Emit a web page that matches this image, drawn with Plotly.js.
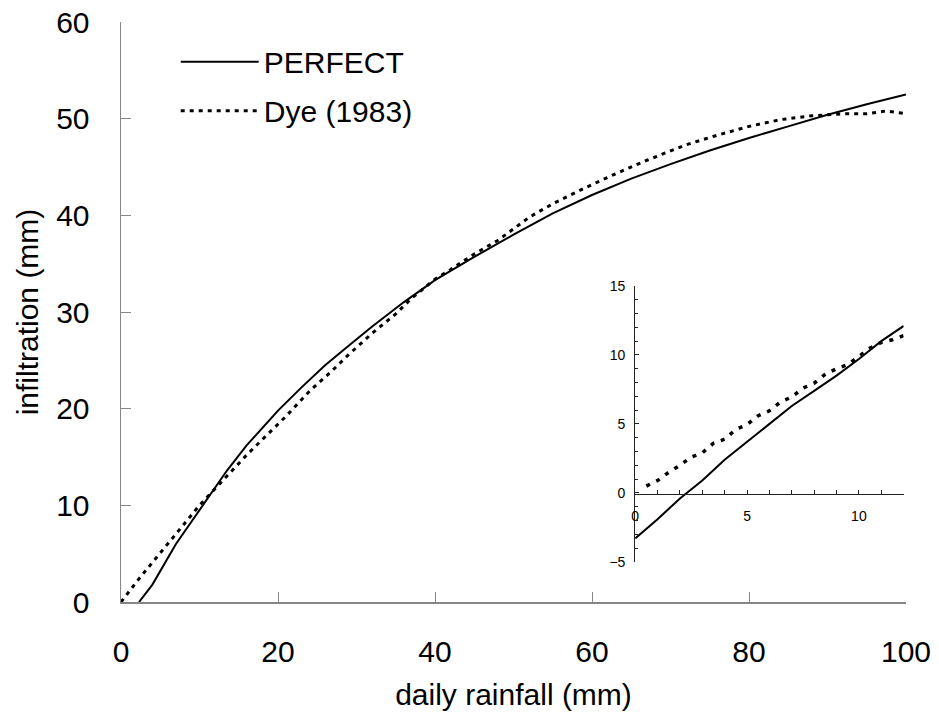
<!DOCTYPE html>
<html>
<head>
<meta charset="utf-8">
<script src="https://cdn.plot.ly/plotly-3.0.1.min.js"></script>
<style>html,body{margin:0;padding:0;background:#fff;}#chart{width:939px;height:721px;}</style>
</head>
<body>
<div id="chart"></div>
<script>
// Main panel data
const perfectX = [2.3, 4, 7, 10, 13.5, 16, 20, 23, 26, 29, 32, 36, 40, 45, 50, 55, 60, 65, 70, 75, 80, 85, 90, 95, 100];
const perfectY = [0, 1.8, 6.0, 9.5, 13.6, 16.2, 19.8, 22.2, 24.5, 26.5, 28.5, 31, 33.3, 35.7, 38, 40.2, 42.1, 43.8, 45.3, 46.7, 48, 49.2, 50.4, 51.5, 52.5];
const dyeX = [0, 1, 2, 3, 4, 6, 8, 9, 10, 13, 16, 18, 21, 24, 27, 29, 32, 35, 37, 40, 42, 45, 48, 50, 52, 55, 59, 63, 67, 72, 76, 80, 84, 88, 92, 95, 97.5, 100];
const dyeY = [0, 1.1, 2.1, 3.1, 4.1, 6.1, 8.1, 9.1, 10, 12.6, 15.2, 16.8, 19.2, 21.8, 24, 25.6, 27.8, 29.8, 31.4, 33.4, 34.4, 36, 37.4, 38.6, 39.8, 41.2, 42.8, 44.3, 45.7, 47.3, 48.3, 49.2, 49.9, 50.3, 50.5, 50.5, 50.8, 50.5];
// Inset data
const insetPerfectX = [0, 1, 2, 2.3, 3, 4, 5, 6, 7, 8, 9, 10, 11, 12];
const insetPerfectY = [-3.3, -1.9, -0.4, 0, 0.9, 2.4, 3.7, 5, 6.3, 7.4, 8.5, 9.7, 11, 12.1];
const insetDyeX = [0.5, 1, 1.5, 2, 2.5, 3, 3.5, 4, 4.5, 5, 5.5, 6, 6.5, 7, 7.5, 8, 8.5, 9, 9.5, 10, 10.5, 11, 11.5, 12];
const insetDyeY = [0.5, 0.9, 1.5, 2.0, 2.6, 2.9, 3.6, 3.9, 4.6, 4.95, 5.6, 5.95, 6.6, 6.95, 7.6, 7.95, 8.6, 9.0, 9.3, 9.9, 10.5, 10.9, 11.1, 11.4];
// Labels
const seriesNames = ['PERFECT', 'Dye (1983)'];
const xTitle = 'daily rainfall (mm)';
const yTitle = 'infiltration (mm)';

const FONT = 'Liberation Sans, Arial, sans-serif';
const axisGray = '#868686';

const traces = [
  {x: perfectX, y: perfectY, name: seriesNames[0], legendgroup: 'a', type: 'scatter', mode: 'lines',
   line: {color: '#000', width: 2}, xaxis: 'x', yaxis: 'y'},
  {x: dyeX, y: dyeY, name: seriesNames[1], legendgroup: 'b', type: 'scatter', mode: 'lines',
   line: {color: '#000', width: 3, dash: '4px,5px'}, xaxis: 'x', yaxis: 'y'},
  {x: insetPerfectX, y: insetPerfectY, showlegend: false, type: 'scatter', mode: 'lines',
   line: {color: '#000', width: 2}, xaxis: 'x2', yaxis: 'y2'},
  {x: insetDyeX, y: insetDyeY, showlegend: false, type: 'scatter', mode: 'lines',
   line: {color: '#000', width: 3.5, dash: '4px,7px'}, xaxis: 'x2', yaxis: 'y2'}
];

const layout = {
  width: 939, height: 721,
  paper_bgcolor: '#fff', plot_bgcolor: '#fff',
  margin: {l: 121, r: 33, t: 22, b: 119},
  font: {family: FONT, color: '#000', size: 30},
  showlegend: true,
  legend: {x: 0.0697, y: 0.9764, xanchor: 'left', yanchor: 'top', bgcolor: 'rgba(0,0,0,0)',
           font: {family: FONT, size: 30, color: '#000'}, traceorder: 'grouped', tracegroupgap: 7, itemwidth: 78},
  xaxis: {domain: [0, 1], range: [0, 100], dtick: 20, tick0: 0,
          showline: true, linecolor: axisGray, linewidth: 1.5, mirror: false,
          ticks: 'inside', ticklen: 10, tickcolor: axisGray, tickwidth: 1,
          showgrid: false, zeroline: false, ticklabelstandoff: 22,
          tickfont: {family: FONT, size: 30, color: '#000'},
          title: {text: xTitle, font: {family: FONT, size: 30, color: '#000'}, standoff: 17}},
  yaxis: {domain: [0, 1], range: [0, 60], dtick: 10, tick0: 0,
          showline: true, linecolor: axisGray, linewidth: 1.5,
          ticks: 'inside', ticklen: 10, tickcolor: axisGray, tickwidth: 1,
          showgrid: false, zeroline: false, ticklabelstandoff: 24,
          tickfont: {family: FONT, size: 30, color: '#000'},
          title: {text: yTitle, font: {family: FONT, size: 30, color: '#000'}, standoff: 8}},
  xaxis2: {domain: [0.655, 0.997], range: [0, 12], dtick: 5, tick0: 0,
           anchor: 'free', position: 0.1862,
           showline: true, linecolor: '#222', linewidth: 1,
           ticks: 'inside', ticklen: 4, tickcolor: '#222', tickwidth: 1,
           minor: {dtick: 1, ticks: 'inside', ticklen: 4, tickcolor: '#222'},
           showgrid: false, zeroline: false, ticklabelstandoff: 9,
           tickfont: {family: FONT, size: 14, color: '#000'}},
  yaxis2: {domain: [0.069, 0.545], range: [-5, 15], dtick: 5, tick0: 0,
           anchor: 'x2',
           showline: true, linecolor: '#222', linewidth: 1,
           ticks: 'inside', ticklen: 4, tickcolor: '#222', tickwidth: 1,
           minor: {dtick: 1, ticks: 'inside', ticklen: 3, tickcolor: '#222'},
           showgrid: false, zeroline: false, ticklabelstandoff: 6,
           tickfont: {family: FONT, size: 14, color: '#000'}}
};

Plotly.newPlot('chart', traces, layout, {displayModeBar: false, staticPlot: true});
</script>
</body>
</html>
